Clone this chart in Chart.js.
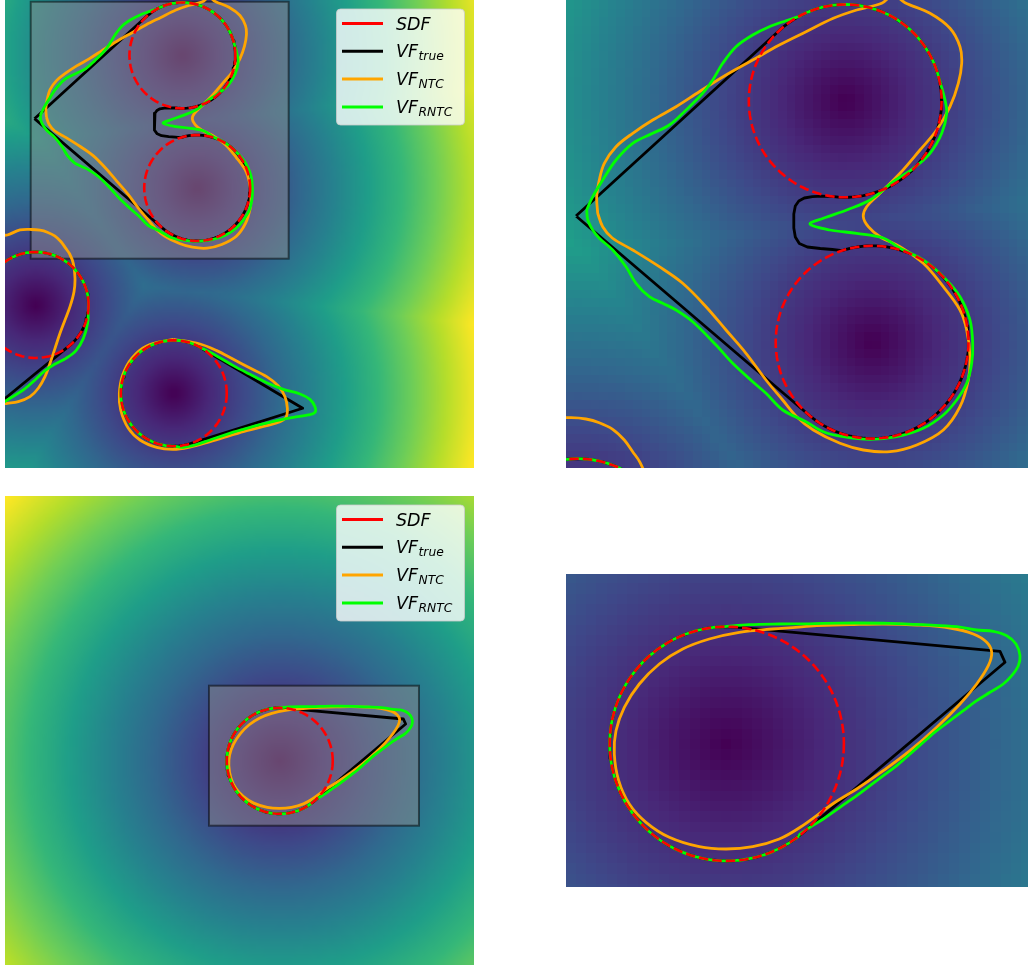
<!DOCTYPE html>
<html>
<head>
<meta charset="utf-8">
<script src="https://cdn.jsdelivr.net/npm/chart.js@4/dist/chart.umd.min.js"></script>
<style>
  html, body { margin: 0; padding: 0; background: #ffffff; }
  body { width: 1028px; height: 966px; position: relative; overflow: hidden; }
  canvas { position: absolute; display: block; }
</style>
</head>
<body>
<canvas id="heartFull" width="469" height="468" style="left:5px;top:0px"></canvas>
<canvas id="heartZoom" width="462" height="468" style="left:566px;top:0px"></canvas>
<canvas id="dropFull" width="469" height="469" style="left:5px;top:496px"></canvas>
<canvas id="dropZoom" width="462" height="313" style="left:566px;top:574px"></canvas>
<script>
// ---------------- Scene A: heart, side lobe and teardrop ----------------
const sceneAExtent = [853.6, 851.8];
const sceneARadius = 96.4;
const sceneACentres = [[322.9, 100.9], [349.8, 342.2], [55.7, 555.1], [307.2, 715.8]];
const sceneAZoomX = [43.7, 505.7];
const sceneAZoomY = [0, 468];
const sceneABoxX = [46.8, 516.3];
const sceneABoxY = [3.1, 470.8];

// path nodes: [x, y] or ['arc', circle, fromDeg, toDeg]
const heartTrue = [[53.7, 216], ['arc', 0, 227.6, 457],
  [300, 196.2], [290, 196.6], [282, 198], [276.5, 201], [273, 206], [271.5, 214], [271.5, 228],
  [273, 237], [277, 243.5], [285, 247], [298, 248.5], [310, 249.5],
  ['arc', 1, 252, 490.5], [53.7, 216]];
const lobeTrue = [['arc', 2, 180, 410.6], [-9.1, 732.8]];
const dropTrue = [['arc', 3, 72.5, 300.7], [541.8, 743.1], ['arc', 3, 72.5, 72.5]];

const heartNTC = [[75.4, 213.3], [74.4, 196.7], [77, 180], [82, 163.3], [93.7, 146.7], [110.4, 133.3],
  [130.4, 120], [153.7, 106.7], [177, 91.7], [203.7, 75], [230.4, 60], [257, 45], [283.7, 31.7],
  [311, 18.3], [334.4, 10], [359.4, 3.3], [371, -5], [382.7, 2.7], [407.7, 13.3], [427.7, 28.3],
  [437.7, 46.7], [439.4, 63.3], [436, 83.3], [427.7, 106.7], [414.4, 130], [397.7, 150],
  [377.7, 173.3], [357.7, 193.3], [344.4, 206.7], [341, 216.7], [346, 226.7], [357.7, 236.7],
  [377.7, 246.7], [401, 263.3], [421, 286.7], [437.7, 310], [444.4, 330], [447.7, 356.7],
  [446, 380], [437.7, 406.7], [421, 430], [394.4, 445], [367.7, 451.7], [341, 450], [317.7, 443.3],
  [291, 430], [274.4, 416.7], [260.4, 400], [243.7, 380], [223.7, 353.3], [203.7, 330],
  [183.7, 306.7], [160.4, 283.3], [137, 266.7], [110.4, 250], [90, 238], [80.4, 226.7], [75.4, 213.3]];
const lobeNTC = [[-5, 428], [4.2, 427.7], [27.3, 418.6], [48.7, 417.7], [63.7, 419], [77, 422.7],
  [90.4, 429.3], [102, 440], [110.4, 451.7], [117.7, 462.3], [124.3, 479.3], [127.4, 506.6],
  [125.6, 530.9], [118.3, 558.2], [109.2, 582.4], [100.1, 606.6], [91, 634], [81.9, 661.3],
  [72.8, 685.6], [60.6, 706.7], [45.5, 722], [24.2, 731.1], [4.2, 734], [-5, 735]];
const dropNTC = [[306.4, 617.6], [354.9, 626.1], [385.3, 638.2], [415.6, 654], [445.9, 669.8],
  [476.3, 685.5], [497.5, 702.5], [509.6, 722], [513.9, 743.2], [511.4, 759.6], [500.5, 767.4],
  [476.3, 774.7], [439.8, 783.8], [403.4, 794.8], [367.1, 805.7], [336.7, 813.6], [306.4, 817.8],
  [276.1, 814.2], [245.7, 800.8], [224.5, 779.6], [210.5, 746.2], [208.1, 715.9], [214.2, 682.5],
  [230.5, 652.2], [257.8, 629.7], [306.4, 617.6]];

const heartRNTC = [[64.4, 210], [70.4, 196.7], [80.4, 180], [93.7, 160], [110.4, 143.3], [130.4, 133.3],
  [147, 125], [163.7, 110], [180.4, 93.3], [190.4, 80], [200.4, 63.3], [213.7, 46.7], [230.4, 35],
  [247, 26.7], [263.7, 20.7], ['arc', 0, 241, 345],
  [422.7, 100], [424.4, 113.3], [419.4, 133.3], [407.7, 153.3], [391, 168.3], [371, 181.7],
  [347.7, 200], [324.4, 210], [301, 218.3], [287.7, 224], [307.7, 230], [334.4, 233.3], [361, 238],
  [377.7, 248.3], [401, 260], [421, 276.7], [437.7, 296.7], [447.7, 320], [450.4, 343.3],
  [449.4, 363.3], [444.4, 383.3], [434.4, 400], [421, 415], [401, 428.3], [374.4, 436.7],
  [347.7, 439.3], [321, 436.7], [301, 431.7], [283.7, 421.7], [260.4, 410], [243.7, 393.3],
  [230.4, 381.7], [210.4, 363.3], [193.7, 345], [170.4, 321.7], [153.7, 310], [140.4, 303.3],
  [127, 296.7], [113.7, 283.3], [103.7, 266.7], [90.4, 250], [77, 238.3], [70.4, 230],
  [65.5, 220], [64.4, 210]];
const lobeRNTC = [['arc', 2, 180, 365], [150.4, 588.5], [142.6, 615.8], [129.2, 638.2], [111, 652.2],
  [91, 662.5], [72.8, 674.6], [54.6, 691.6], [33.4, 709.8], [12.1, 723.1], [-10, 737]];
const dropRNTC = [['arc', 3, 90, 298], [385.3, 647.9], [415.6, 665.5], [445.9, 681.3], [476.3, 696.5],
  [506.6, 708.6], [536.9, 717.1], [555.1, 726.8], [564.2, 740.2], [564.2, 750.5], [552.1, 755.3],
  [524.8, 759.6], [494.5, 765.6], [464.1, 772.9], [433.8, 781.4], [403.4, 790.5], [373.1, 800.8],
  [345.8, 809.9], [324.6, 814], ['arc', 3, 90, 90]];

// ---------------- Scene B: single teardrop ----------------
const sceneBExtent = [1036.5, 1036.5];
const sceneBRadius = 117.1;
const sceneBCentres = [[607.2, 585.3]];
const sceneBZoomX = [446.4, 908.4];
const sceneBZoomY = [415.5, 728.5];
const sceneBBoxX = [450.8, 914.9];
const sceneBBoxY = [419.2, 728.6];

const singleTrue = [['arc', 0, 49.9, 277.5], [880.4, 492.8], [885.4, 503.8], ['arc', 0, 49.9, 49.9]];
const singleNTC = [[697.1, 467.2], [653.1, 470.5], [619.7, 473.8], [589.7, 480.5], [563.1, 490.5],
  [539.7, 505.5], [519.7, 525.5], [504.7, 548.8], [496.4, 572.2], [494.7, 595.5], [499.1, 622.2],
  [509.7, 645.5], [526.4, 663.8], [549.7, 678.8], [579.7, 688.2], [606.4, 690.5], [633.1, 688.2],
  [659.7, 680.5], [681, 668.5], [714.4, 644.5], [737.1, 630.5], [763.7, 612.2],
  [790.4, 592.2], [817.1, 568.8], [840.4, 545.5], [857.1, 525.5], [868.7, 507.2], [872.1, 493.8],
  [867.1, 483.8], [853.7, 475.5], [830.4, 469.5], [797.1, 466.5], [763.7, 465.5], [730.4, 466.2],
  [697.1, 467.2]];
const singleRNTC = [['arc', 0, 52, 268], [629.7, 466.2], [659.7, 465.5], [686.4, 465.3], [703.7, 464.8],
  [737.1, 464.5], [770.4, 464.8], [803.7, 466.2], [837.1, 468.2], [857.1, 471.5], [873.7, 472.8],
  [887.1, 477.2], [896.4, 485.5], [900.4, 497.2], [898.7, 507.2], [892.1, 517.2], [883.7, 525.5],
  [870.4, 533.8], [857.1, 542.2], [843.7, 552.2], [830.4, 562.2], [817.1, 572.2], [803.7, 583.8],
  [790.4, 595.5], [777.1, 607.2], [763.7, 617.2], [750.4, 627.2], [737.1, 637.2], [720.4, 648.8],
  [703.7, 660.5], [690.4, 668.8], [680.4, 675.5], ['arc', 0, 52, 52]];

// ---------------- Legend entries ----------------
const keyNames = [['SDF', ''], ['VF', 'true'], ['VF', 'NTC'], ['VF', 'RNTC']];
const keyColours = ['#ff0000', '#000000', '#ffa500', '#00ff00'];

// viridis, 10 evenly spaced stops
const viridisStops = [[68, 1, 84], [72, 40, 120], [62, 73, 137], [49, 104, 142], [38, 130, 142],
  [31, 158, 137], [53, 183, 121], [110, 206, 88], [181, 222, 43], [253, 231, 37]];

function viridis(t) {
  t = Math.min(1, Math.max(0, t)) * (viridisStops.length - 1);
  const i = Math.min(viridisStops.length - 2, Math.floor(t));
  const f = t - i, a = viridisStops[i], b = viridisStops[i + 1];
  return [a[0] + (b[0] - a[0]) * f, a[1] + (b[1] - a[1]) * f, a[2] + (b[2] - a[2]) * f];
}

// Signed distance to the union of circles, sampled on an n x n grid, coloured with viridis.
function fieldImage(extent, centres, r, n) {
  const c = document.createElement('canvas');
  c.width = n; c.height = n;
  const g = c.getContext('2d');
  const im = g.createImageData(n, n);
  const vals = new Float64Array(n * n);
  let lo = Infinity, hi = -Infinity;
  for (let j = 0; j < n; j++) {
    for (let i = 0; i < n; i++) {
      const X = (i + 0.5) / n * extent[0], Y = (j + 0.5) / n * extent[1];
      let d = Infinity;
      for (const p of centres) d = Math.min(d, Math.hypot(X - p[0], Y - p[1]) - r);
      vals[j * n + i] = d;
      lo = Math.min(lo, d); hi = Math.max(hi, d);
    }
  }
  for (let k = 0; k < n * n; k++) {
    const col = viridis((vals[k] - lo) / (hi - lo));
    im.data[4 * k] = col[0]; im.data[4 * k + 1] = col[1]; im.data[4 * k + 2] = col[2]; im.data[4 * k + 3] = 255;
  }
  g.putImageData(im, 0, 0);
  return c;
}

// Expand a path of points and circle arcs into {x, y} data.
function trace(path, centres, r) {
  const pts = [];
  for (const node of path) {
    if (node[0] === 'arc') {
      const c = centres[node[1]], a0 = node[2], a1 = node[3];
      const steps = Math.max(1, Math.ceil(Math.abs(a1 - a0) / 3));
      for (let k = 0; k <= steps; k++) {
        const a = (a0 + (a1 - a0) * k / steps) * Math.PI / 180;
        pts.push({ x: c[0] + r * Math.cos(a), y: c[1] + r * Math.sin(a) });
      }
    } else {
      pts.push({ x: node[0], y: node[1] });
    }
  }
  return pts;
}

function lineSet(label, path, centres, r, colour, opts) {
  return Object.assign({
    label, data: trace(path, centres, r), showLine: true, pointRadius: 0, pointHoverRadius: 0,
    borderColor: colour, backgroundColor: colour, borderWidth: 2.8, fill: false,
    tension: 0.35, borderJoinStyle: 'round', borderCapStyle: 'butt', clip: 0
  }, opts || {});
}

// first dataset is drawn on top
function sceneDatasets(centres, r, trues, ntcs, rntcs) {
  const sets = [];
  centres.forEach((c, i) => sets.push(lineSet('SDF', [['arc', i, 0, 360]], centres, r, keyColours[0],
    { tension: 0, borderDash: [9.5, 4], borderWidth: 2.6 })));
  rntcs.forEach(p => sets.push(lineSet('VF_RNTC', p, centres, r, keyColours[3])));
  ntcs.forEach(p => sets.push(lineSet('VF_NTC', p, centres, r, keyColours[2])));
  trues.forEach(p => sets.push(lineSet('VF_true', p, centres, r, keyColours[1], { tension: 0 })));
  return sets;
}

function backdrop(image, extent, smooth, boxX, boxY) {
  return {
    id: 'backdrop',
    beforeDatasetsDraw(chart) {
      const { ctx, chartArea: a, scales: { x, y } } = chart;
      ctx.save();
      ctx.beginPath();
      ctx.rect(a.left, a.top, a.right - a.left, a.bottom - a.top);
      ctx.clip();
      ctx.imageSmoothingEnabled = smooth;
      const x0 = x.getPixelForValue(0), x1 = x.getPixelForValue(extent[0]);
      const y0 = y.getPixelForValue(0), y1 = y.getPixelForValue(extent[1]);
      ctx.drawImage(image, x0, y0, x1 - x0, y1 - y0);
      if (boxX) {
        const bx0 = x.getPixelForValue(boxX[0]), bx1 = x.getPixelForValue(boxX[1]);
        const by0 = y.getPixelForValue(boxY[0]), by1 = y.getPixelForValue(boxY[1]);
        ctx.fillStyle = 'rgba(140,140,140,0.5)';
        ctx.fillRect(bx0, by0, bx1 - bx0, by1 - by0);
        ctx.strokeStyle = 'rgba(0,0,0,0.5)';
        ctx.lineWidth = 2;
        ctx.strokeRect(bx0, by0, bx1 - bx0, by1 - by0);
      }
      ctx.restore();
    }
  };
}

const curveKey = {
  id: 'curveKey',
  afterDraw(chart) {
    const ctx = chart.ctx;
    const left = 331, top = 8.5, w = 128, h = 116;
    ctx.save();
    ctx.beginPath();
    ctx.roundRect(left + 0.5, top + 0.5, w, h, 4);
    ctx.fillStyle = 'rgba(255,255,255,0.8)';
    ctx.fill();
    ctx.strokeStyle = 'rgba(204,204,204,0.8)';
    ctx.lineWidth = 1;
    ctx.stroke();
    keyNames.forEach((name, i) => {
      const rowY = top + 15 + i * 27.8;
      ctx.beginPath();
      ctx.moveTo(left + 6, rowY);
      ctx.lineTo(left + 47, rowY);
      ctx.strokeStyle = keyColours[i];
      ctx.lineWidth = 3;
      ctx.stroke();
      ctx.fillStyle = '#000000';
      ctx.textBaseline = 'alphabetic';
      ctx.font = 'italic 17.5px "DejaVu Sans"';
      ctx.fillText(name[0], left + 60, rowY + 6);
      if (name[1]) {
        const wMain = ctx.measureText(name[0]).width;
        ctx.font = 'italic 12.3px "DejaVu Sans"';
        ctx.fillText(name[1], left + 60 + wMain + 0.5, rowY + 9);
      }
    });
    ctx.restore();
  }
};

function makeChart(id, datasets, xr, yr, plugins) {
  return new Chart(document.getElementById(id), {
    type: 'scatter',
    data: { datasets },
    options: {
      responsive: false, animation: false, devicePixelRatio: 1, events: [],
      layout: { padding: 0 },
      plugins: { legend: { display: false }, tooltip: { enabled: false } },
      scales: {
        x: { type: 'linear', display: false, min: xr[0], max: xr[1] },
        y: { type: 'linear', display: false, min: yr[0], max: yr[1], reverse: true }
      }
    },
    plugins
  });
}

const imageA = fieldImage(sceneAExtent, sceneACentres, sceneARadius, 100);
const imageB = fieldImage(sceneBExtent, sceneBCentres, sceneBRadius, 100);

const setsA = () => sceneDatasets(sceneACentres, sceneARadius,
  [heartTrue, lobeTrue, dropTrue], [heartNTC, lobeNTC, dropNTC], [heartRNTC, lobeRNTC, dropRNTC]);
const setsB = () => sceneDatasets(sceneBCentres, sceneBRadius, [singleTrue], [singleNTC], [singleRNTC]);

makeChart('heartFull', setsA(), [0, sceneAExtent[0]], [0, sceneAExtent[1]],
  [backdrop(imageA, sceneAExtent, true, sceneABoxX, sceneABoxY), curveKey]);
makeChart('heartZoom', setsA(), sceneAZoomX, sceneAZoomY,
  [backdrop(imageA, sceneAExtent, false)]);
makeChart('dropFull', setsB(), [0, sceneBExtent[0]], [0, sceneBExtent[1]],
  [backdrop(imageB, sceneBExtent, true, sceneBBoxX, sceneBBoxY), curveKey]);
makeChart('dropZoom', setsB(), sceneBZoomX, sceneBZoomY,
  [backdrop(imageB, sceneBExtent, false)]);
</script>
</body>
</html>
